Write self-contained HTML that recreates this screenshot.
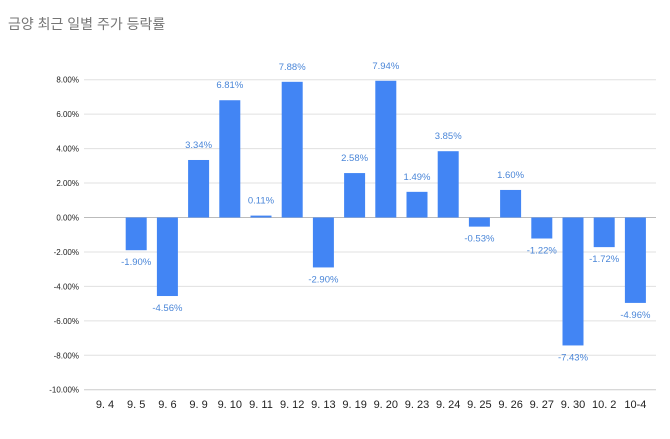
<!DOCTYPE html>
<html><head><meta charset="utf-8"><style>
html,body{margin:0;padding:0;background:#fff;}
svg{display:block;}
</style></head><body>
<svg width="670" height="439" xmlns="http://www.w3.org/2000/svg">
<text x="8" y="29" font-family="'Liberation Sans','Noto Sans CJK KR',sans-serif" font-size="14" fill="#757575">금양 최근 일별 주가 등락률</text>
<g id="g"></g>
<script>
(function(){
var ns="http://www.w3.org/2000/svg",g=document.getElementById("g");
function el(t,a,txt){var e=document.createElementNS(ns,t);for(var k in a)e.setAttribute(k,a[k]);if(txt!==undefined)e.textContent=txt;g.appendChild(e);return e;}
var z=217.5,s=17.22;
for(var v=8;v>=-10;v-=2){var y=z-v*s;
el("line",{x1:84,x2:656,y1:y,y2:y,stroke:v==-10?"#ccc":"#e0e0e0","stroke-width":1});
el("text",{x:79,y:y+3,"text-anchor":"end","font-family":"Liberation Sans,sans-serif","font-size":"8","fill":"#222"},v.toFixed(2)+"%");}
el("line",{x1:84,x2:656,y1:z,y2:z,stroke:"#bbb","stroke-width":1});
var L=["9. 4","9. 5","9. 6","9. 9","9. 10","9. 11","9. 12","9. 13","9. 19","9. 20","9. 23","9. 24","9. 25","9. 26","9. 27","9. 30","10. 2","10-4"];
var D=[null,-1.90,-4.56,3.34,6.81,0.11,7.88,-2.90,2.58,7.94,1.49,3.85,-0.53,1.60,-1.22,-7.43,-1.72,-4.96];
for(var i=0;i<18;i++){var c=105+i*31.2;
el("text",{x:c,y:408,"text-anchor":"middle","font-family":"Liberation Sans,sans-serif","font-size":"11","fill":"#222"},L[i]);
var d=D[i];if(d===null)continue;var h=Math.abs(d)*s;
if(d>=0){el("rect",{x:c-10.5,y:z-h,width:21,height:h,fill:"#4285f4"});
el("text",{x:c,y:z-h-12,"text-anchor":"middle","font-family":"Liberation Sans,sans-serif","font-size":"9.5","fill":"#4a86d8"},d.toFixed(2)+"%");}
else{el("rect",{x:c-10.5,y:z,width:21,height:h,fill:"#4285f4"});
el("text",{x:c,y:z+h+15,"text-anchor":"middle","font-family":"Liberation Sans,sans-serif","font-size":"9.5","fill":"#4a86d8"},d.toFixed(2)+"%");}
}
})();
</script>
</svg>
</body></html>
